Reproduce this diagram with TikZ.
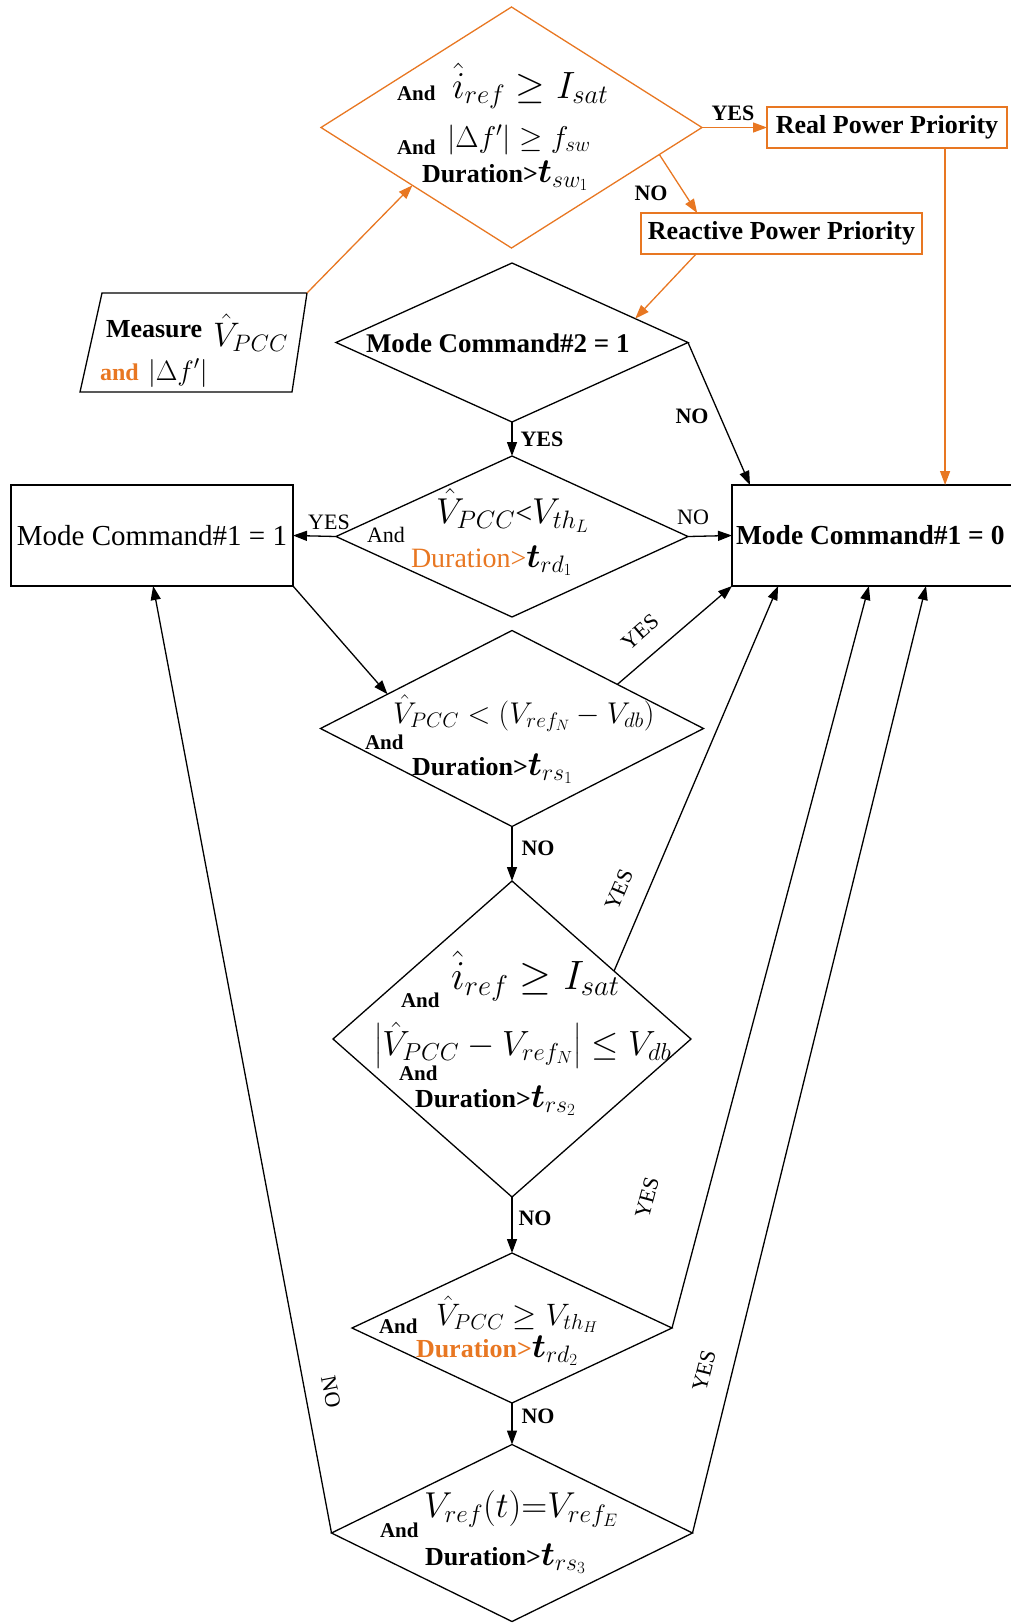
\RequirePackage{fix-cm}
\documentclass[tikz,border=0pt]{standalone}
\usepackage{amsmath}
\usepackage{fontspec}
\setmainfont{Liberation Serif}
\usetikzlibrary{shapes.geometric,arrows.meta,calc}
\definecolor{org}{RGB}{232,119,34}
\newcommand\fsz[1]{\fontsize{#1}{#1}\selectfont}
\begin{document}
\begin{tikzpicture}[x=1pt,y=-1pt,line width=1.3pt,
 dia/.style={diamond,draw,inner sep=0pt,outer sep=0pt},
 box/.style={rectangle,draw,inner sep=0pt,outer sep=0pt},
 arr/.style={-{Triangle[length=14pt,width=10pt]}},
 txt/.style={anchor=base west,inner sep=0pt,outer sep=0pt},
 lbl/.style={inner sep=0pt,font=\fsz{22}\bfseries},
 rlbl/.style={inner sep=0pt,font=\fsz{22}},
]
\useasboundingbox (0,0) rectangle (1010,1623);
% diamonds
\node[dia,draw=org,minimum width=381pt,minimum height=241pt] (d0) at (511.5,127.5) {};
\node[dia,minimum width=352pt,minimum height=159pt] (d1) at (512,342.5) {};
\node[dia,minimum width=352pt,minimum height=161pt] (d2) at (512,536.5) {};
\node[dia,minimum width=383pt,minimum height=196pt] (d3) at (512,728.5) {};
\node[dia,minimum width=358pt,minimum height=316pt] (d4) at (512,1039) {};
\node[dia,minimum width=320pt,minimum height=150pt] (d5) at (512,1328) {};
\node[dia,minimum width=361pt,minimum height=177pt] (d6) at (512,1533) {};
% boxes
\node[box,draw=org,minimum width=240pt,minimum height=41pt,font=\fsz{26}\bfseries] (rpp) at (887,127.5) {Real Power Priority};
\node[box,draw=org,minimum width=281pt,minimum height=41pt,font=\fsz{26}\bfseries] (repp) at (781.5,233.5) {Reactive Power Priority};
\node[box,minimum width=282pt,minimum height=101pt,font=\fsz{29}] (mc1) at (152,535.5) {Mode Command\#1 = 1};
\node[box,minimum width=290pt,minimum height=101pt] (mc0) at (877,535.5) {};
\node[txt,font=\fsz{27.5}\bfseries] (mc0t) at (736,544) {Mode Command\#1 = 0};
% measure parallelogram
\draw (102,293) -- (307,293) -- (292,392) -- (80,392) -- cycle;
\coordinate (meas) at (307,293);
\node[txt,font=\fsz{26}\bfseries] (mtxt) at (106,337) {Measure};
\node[txt,font=\fsz{34}] (mv) at (213,346) {$\hat{V}_{PCC}$};
\node[txt,font=\fsz{24}\bfseries,text=org] (mand) at (100,380) {and};
\node[txt,font=\fsz{28}] (mdf) at (148,380) {$|\Delta f'|$};
% top diamond text
\node[txt,font=\fsz{21}\bfseries] (a01) at (397,100) {And};
\node[txt,font=\fsz{38}] (e01) at (452,98) {$\hat{i}_{ref}\geq I_{sat}$};
\node[txt,font=\fsz{21}\bfseries] (a02) at (397,154) {And};
\node[txt,font=\fsz{30}] (e02) at (447,147) {$|\Delta f'|\geq f_{sw}$};
\node[txt,font=\fsz{26}\bfseries] (du0) at (422,182) {Duration>\fsz{34}$\boldsymbol{t}_{sw_1}$};
% d1 text
\node[txt,font=\fsz{27}\bfseries] (t1) at (366,352) {Mode Command\#2 = 1};
% d2 text
\node[txt,font=\fsz{36}] (e2) at (436,523) {$\hat{V}_{PCC}$\fsz{30}<\fsz{36}$V_{th_L}$};
\node[txt,font=\fsz{22}] (a2) at (367,542) {And};
\node[txt,font=\fsz{28}] (du2) at (411,567) {\textcolor{org}{Duration>}\fsz{34}$\boldsymbol{t}_{rd_1}$};
% d3 text
\node[txt,font=\fsz{30}] (e3) at (393,723) {$\hat{V}_{PCC}<(V_{ref_N}-V_{db})$};
\node[txt,font=\fsz{21}\bfseries] (a3) at (365,749) {And};
\node[txt,font=\fsz{26}\bfseries] (du3) at (412,775) {Duration>\fsz{34}$\boldsymbol{t}_{rs_1}$};
% d4 text
\node[txt,font=\fsz{41}] (e41) at (451,989) {$\hat{i}_{ref}\geq I_{sat}$};
\node[txt,font=\fsz{21}\bfseries] (a41) at (401,1007) {And};
\node[txt,font=\fsz{35}] (e42) at (374,1055) {$\bigl|\hat{V}_{PCC}-V_{ref_N}\bigr|\leq V_{db}$};
\node[txt,font=\fsz{21}\bfseries] (a42) at (399,1080) {And};
\node[txt,font=\fsz{26}\bfseries] (du4) at (415,1107) {Duration>\fsz{34}$\boldsymbol{t}_{rs_2}$};
% d5 text
\node[txt,font=\fsz{31}] (e5) at (436,1325) {$\hat{V}_{PCC}\geq V_{th_H}$};
\node[txt,font=\fsz{21}\bfseries] (a5) at (379,1333) {And};
\node[txt,font=\fsz{26}\bfseries] (du5) at (416,1357) {\textcolor{org}{Duration>}\fsz{34}$\boldsymbol{t}_{rd_2}$};
% d6 text
\node[txt,font=\fsz{36}] (e6) at (424,1517) {$V_{ref}(t){=}V_{ref_E}$};
\node[txt,font=\fsz{21}\bfseries] (a6) at (380,1537) {And};
\node[txt,font=\fsz{26}\bfseries] (du6) at (425,1565) {Duration>\fsz{34}$\boldsymbol{t}_{rs_3}$};
% connectors
\draw[arr,org] (meas) -- ($(d0.west)!0.48!(d0.south)$);
\draw[arr,org] (d0.east) -- (rpp.west);
\node[lbl] at (733,113) {YES};
\draw[arr,org] ($(d0.east)!0.224!(d0.south)$) -- ($(repp.north west)!0.2!(repp.north east)$);
\node[lbl] at (651,193) {NO};
\draw[arr,org] ($(repp.south west)!0.196!(repp.south east)$) -- ($(d1.north)!0.7!(d1.east)$);
\coordinate (rp) at ($(rpp.south west)!0.742!(rpp.south east)$);
\draw[arr,org] (rp) -- (rp |- mc0.north);
\draw[arr] (d1.east) -- ($(mc0.north west)!0.062!(mc0.north east)$);
\node[lbl] at (692,416) {NO};
\draw[arr] (d1.south) -- (d2.north);
\node[lbl] at (542,439) {YES};
\draw[arr] (d2.west) -- (mc1.east);
\node[rlbl] at (329,522) {YES};
\draw[arr] (d2.east) -- (mc0.west);
\node[rlbl] at (693,517) {NO};
\draw[arr] (mc1.south east) -- ($(d3.west)!0.35!(d3.north)$);
\draw[arr] ($(d3.north)!0.55!(d3.east)$) -- (mc0.south west);
\node[rlbl,rotate=41] at (640,632) {YES};
\draw[arr] (d3.south) -- (d4.north);
\node[lbl] at (538,848) {NO};
\draw[arr] ($(d4.north)!0.57!(d4.east)$) -- ($(mc0.south west)!0.159!(mc0.south east)$);
\node[rlbl,rotate=67] at (619,890) {YES};
\draw[arr] (d4.south) -- (d5.north);
\node[lbl] at (535,1218) {NO};
\draw[arr] (d5.east) -- ($(mc0.south west)!0.472!(mc0.south east)$);
\node[rlbl,rotate=75] at (647,1198) {YES};
\draw[arr] (d5.south) -- (d6.north);
\node[lbl] at (538,1416) {NO};
\draw[arr] (d6.east) -- ($(mc0.south west)!0.669!(mc0.south east)$);
\node[rlbl,rotate=76] at (704,1371) {YES};
\draw[arr] (d6.west) -- ($(mc1.south west)!0.504!(mc1.south east)$);
\node[rlbl,rotate=-79] at (331,1392) {NO};
\end{tikzpicture}
\end{document}
